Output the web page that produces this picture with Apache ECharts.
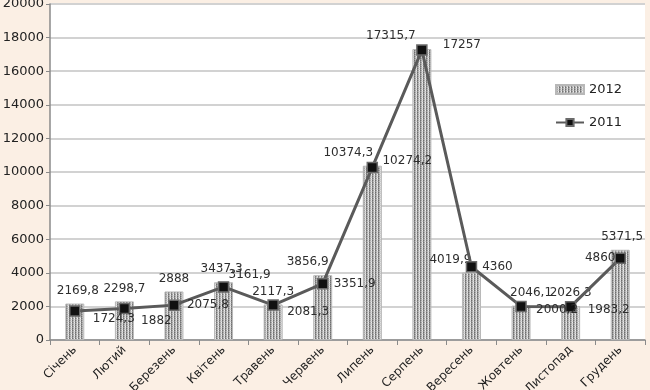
<!DOCTYPE html>
<html>
<head>
<meta charset="utf-8">
<script src="https://cdn.jsdelivr.net/npm/echarts@6/dist/echarts.min.js"></script>
<style>
  html, body { margin: 0; padding: 0; background: #fbefe4; }
  #main { width: 650px; height: 390px; }
</style>
</head>
<body>
<div id="main"></div>
<script>
// дані
const months = ['Січень', 'Лютий', 'Березень', 'Квітень', 'Травень', 'Червень',
  'Липень', 'Серпень', 'Вересень', 'Жовтень', 'Листопад', 'Грудень']
const values2012 = [2169.8, 2298.7, 2888, 3437.3, 2117.3, 3856.9,
  10374.3, 17315.7, 4019.9, 2046.1, 2026.3, 5371.5]
const values2011 = [1724.3, 1882, 2075.8, 3161.9, 2081.3, 3351.9,
  10274.2, 17257, 4360, 2000.2, 1983.2, 4860]
const yTicks = [0, 2000, 4000, 6000, 8000, 10000, 12000, 14000, 16000, 18000, 20000]

// зсув підписів (як у оригіналі)
const barLabelShift = [3, 0, 0, -2, 0, -15, -24, -31, -21, 10, 0, 2]
const lineLabelShift = [[39, 8], [32, 12], [34, 0], [26, -12], [35, 7], [32, 0],
  [35, -7], [40, -5], [26, 0], [36, 3], [38, 3], [-20, 0]]

const fmt = v => String(v).replace('.', ',')

// штрихова заливка стовпчиків (вертикальні смуги з крапками)
const pat = document.createElement('canvas')
pat.width = 3
pat.height = 4
const ctx = pat.getContext('2d')
const cols = [['#6e6e6e', '#8c8c8c', '#727272', '#939393'],
  ['#a8a8a8', '#c4c4c4', '#a2a2a2', '#bdbdbd'],
  ['#e2e2e2', '#cccccc', '#eeeeee', '#d2d2d2']]
for (let x = 0; x < 3; x++) {
  for (let y = 0; y < 4; y++) {
    ctx.fillStyle = cols[x][y]
    ctx.fillRect(x, y, 1, 1)
  }
}
const barFill = { image: pat, repeat: 'repeat' }

const chart = echarts.init(document.getElementById('main'))
const labelFont = { fontFamily: 'DejaVu Sans', fontSize: 12, color: '#2e2e2e' }

const option = {
  animation: false,
  backgroundColor: '#fbefe4',
  textStyle: { fontFamily: 'DejaVu Sans' },
  grid: {
    left: 50, right: 5, top: 4, bottom: 50,
    outerBoundsMode: 'none', containLabel: false,
    backgroundColor: '#ffffff', show: true, borderWidth: 0
  },
  legend: {
    orient: 'vertical',
    left: 550,
    top: 78,
    itemGap: 20,
    itemWidth: 28,
    itemHeight: 9,
    textStyle: { fontFamily: 'DejaVu Sans', fontSize: 13, color: '#222' },
    data: [
      { name: '2012', icon: 'rect' },
      { name: '2011' }
    ]
  },
  xAxis: {
    type: 'category',
    data: months,
    axisLine: { lineStyle: { color: '#8a8a8a', width: 1.5 } },
    axisTick: { show: true, length: 5, lineStyle: { color: '#8a8a8a' } },
    axisLabel: { rotate: 45, fontFamily: 'DejaVu Sans', fontSize: 12, color: '#222', margin: 8 }
  },
  yAxis: {
    type: 'value',
    min: yTicks[0],
    max: yTicks[yTicks.length - 1],
    interval: yTicks[1] - yTicks[0],
    axisLine: { show: true, lineStyle: { color: '#8a8a8a', width: 1.5 } },
    axisTick: { show: true, length: 4, lineStyle: { color: '#8a8a8a' } },
    axisLabel: {
      fontFamily: 'DejaVu Sans', fontSize: 13, color: '#222', margin: 6,
      formatter: v => String(v)
    },
    splitLine: { lineStyle: { color: '#d2d2d2', width: 2 } }
  },
  series: [
    {
      name: '2012',
      type: 'bar',
      barWidth: 19,
      itemStyle: { color: barFill, borderColor: '#b8b8b8', borderWidth: 1 },
      data: values2012.map((v, i) => ({
        value: v,
        label: {
          show: true,
          position: 'top',
          distance: 7,
          offset: [barLabelShift[i], 0],
          formatter: fmt(v),
          ...labelFont
        }
      }))
    },
    {
      name: '2011',
      type: 'line',
      symbol: 'rect',
      symbolSize: 10,
      z: 5,
      lineStyle: { color: '#5a5a5a', width: 3 },
      itemStyle: { color: '#111111', borderColor: '#6a6a6a', borderWidth: 1.5 },
      data: values2011.map((v, i) => ({
        value: v,
        label: {
          show: true,
          position: 'inside',
          offset: lineLabelShift[i],
          formatter: fmt(v),
          ...labelFont
        }
      }))
    }
  ]
}

option && chart.setOption(option)
</script>
</body>
</html>
